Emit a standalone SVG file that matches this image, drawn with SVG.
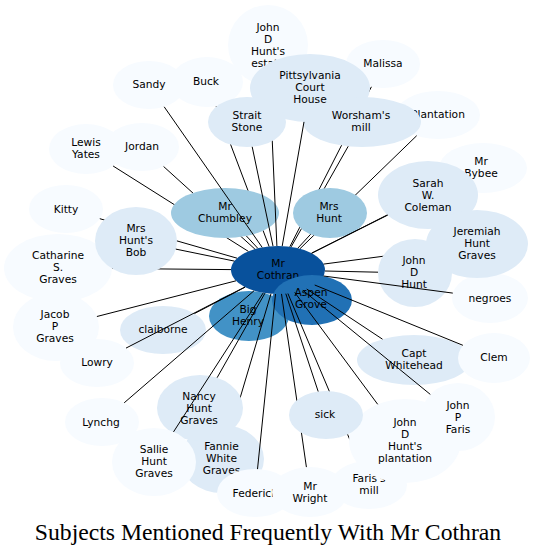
<svg xmlns="http://www.w3.org/2000/svg" width="536" height="555" viewBox="0 0 536 555">
<style>
.n0{fill:#f7fbff}.n1{fill:#deebf7}.n3{fill:#9ecae1}.n5{fill:#4292c6}.n6{fill:#2171b5}.n7{fill:#08519c}
text{font-family:"DejaVu Sans","Liberation Sans",sans-serif;font-size:10.67px;text-anchor:middle;fill:#000}
.title{font-family:"Liberation Serif","Times New Roman",serif;font-size:23.7px}
#edges path{stroke:#000;stroke-width:1;fill:none}
mask rect{fill:#fff}
mask ellipse{fill:#000}
</style>
<defs>
<mask id="m-estate" maskUnits="userSpaceOnUse" x="0" y="0" width="536" height="555"><rect width="536" height="555"/><ellipse cx="310" cy="88" rx="60" ry="34"/><ellipse cx="247" cy="122" rx="39" ry="25"/></mask>
<mask id="m-malissa" maskUnits="userSpaceOnUse" x="0" y="0" width="536" height="555"><rect width="536" height="555"/><ellipse cx="330" cy="213" rx="37" ry="25"/><ellipse cx="310" cy="88" rx="60" ry="34"/><ellipse cx="362" cy="122" rx="59" ry="25"/></mask>
<mask id="m-buck" maskUnits="userSpaceOnUse" x="0" y="0" width="536" height="555"><rect width="536" height="555"/><ellipse cx="225" cy="213" rx="54" ry="25"/><ellipse cx="247" cy="122" rx="39" ry="25"/></mask>
<mask id="m-mrshunt" maskUnits="userSpaceOnUse" x="0" y="0" width="536" height="555"><rect width="536" height="555"/><ellipse cx="330" cy="213" rx="37" ry="25"/></mask>
<mask id="m-sarah" maskUnits="userSpaceOnUse" x="0" y="0" width="536" height="555"><rect width="536" height="555"/><ellipse cx="428" cy="195" rx="50" ry="34"/></mask>
<mask id="m-jdh" maskUnits="userSpaceOnUse" x="0" y="0" width="536" height="555"><rect width="536" height="555"/><ellipse cx="415" cy="273" rx="37" ry="34"/></mask>
<mask id="m-sickq" maskUnits="userSpaceOnUse" x="0" y="0" width="536" height="555"><rect width="536" height="555"/><ellipse cx="326" cy="415" rx="37" ry="24"/><ellipse cx="405" cy="441" rx="56" ry="42"/></mask>
<mask id="m-sick" maskUnits="userSpaceOnUse" x="0" y="0" width="536" height="555"><rect width="536" height="555"/><ellipse cx="326" cy="415" rx="37" ry="24"/></mask>
<mask id="m-nancy" maskUnits="userSpaceOnUse" x="0" y="0" width="536" height="555"><rect width="536" height="555"/><ellipse cx="200" cy="408" rx="43" ry="33"/></mask>
<mask id="m-bob" maskUnits="userSpaceOnUse" x="0" y="0" width="536" height="555"><rect width="536" height="555"/><ellipse cx="136" cy="241" rx="41" ry="34"/></mask>
<mask id="m-chum" maskUnits="userSpaceOnUse" x="0" y="0" width="536" height="555"><rect width="536" height="555"/><ellipse cx="225" cy="213" rx="54" ry="25"/></mask>
</defs>
<rect width="536" height="555" fill="#fff"/>

<g id="node-big-henry"><ellipse class="n5" cx="249" cy="316" rx="40" ry="25"/><text><tspan x="248" y="312.8">Big</tspan><tspan x="248" y="324.8">Henry</tspan></text></g>
<g id="node-mr-cothran"><ellipse class="n7" cx="278" cy="270" rx="47" ry="24"/><text><tspan x="278" y="267.3">Mr</tspan><tspan x="278" y="279.3">Cothran</tspan></text></g>
<g id="node-aspen-grove"><ellipse class="n6" cx="312" cy="300" rx="40" ry="25"/><text><tspan x="311" y="296.3">Aspen</tspan><tspan x="311" y="308.3">Grove</tspan></text></g>
<g id="node-mr-chumbley"><ellipse class="n3" cx="225" cy="213" rx="54" ry="25"/><text><tspan x="225" y="210.3">Mr</tspan><tspan x="225" y="222.3">Chumbley</tspan></text></g>
<g id="node-mrs-hunt"><ellipse class="n3" cx="330" cy="213" rx="37" ry="25"/><text><tspan x="329" y="209.8">Mrs</tspan><tspan x="329" y="221.8">Hunt</tspan></text></g>
<g id="node-estate"><ellipse class="n0" cx="268" cy="45" rx="40" ry="40"/><text><tspan x="268" y="31.3">John</tspan><tspan x="268" y="43.3">D</tspan><tspan x="268" y="55.3">Hunt's</tspan><tspan x="268" y="67.3">estate</tspan></text></g>
<g id="node-malissa"><ellipse class="n0" cx="383" cy="64" rx="37" ry="24"/><text x="383" y="67.3">Malissa</text></g>
<g id="node-sandy"><ellipse class="n0" cx="149" cy="85" rx="36" ry="24"/><text x="149" y="88.3">Sandy</text></g>
<g id="node-buck"><ellipse class="n0" cx="207" cy="82" rx="36" ry="25"/><text x="206" y="84.8">Buck</text></g>
<g id="node-pittsylvania"><ellipse class="n1" cx="310" cy="88" rx="60" ry="34"/><text><tspan x="310" y="79.3">Pittsylvania</tspan><tspan x="310" y="91.3">Court</tspan><tspan x="310" y="103.3">House</tspan></text></g>
<g id="node-strait-stone"><ellipse class="n1" cx="247" cy="122" rx="39" ry="25"/><text><tspan x="247" y="118.8">Strait</tspan><tspan x="247" y="130.8">Stone</tspan></text></g>
<g id="node-plantation"><ellipse class="n0" cx="438" cy="115" rx="42" ry="24"/><text x="438" y="118.3">Plantation</text></g>
<g id="node-worshams-mill"><ellipse class="n1" cx="362" cy="122" rx="59" ry="25"/><text><tspan x="361" y="118.8">Worsham's</tspan><tspan x="361" y="130.8">mill</tspan></text></g>
<g id="node-mr-bybee"><ellipse class="n0" cx="483" cy="168" rx="44" ry="25"/><text><tspan x="481" y="164.8">Mr</tspan><tspan x="481" y="176.8">Bybee</tspan></text></g>
<g id="node-sarah"><ellipse class="n1" cx="428" cy="195" rx="50" ry="34"/><text><tspan x="428" y="186.8">Sarah</tspan><tspan x="428" y="198.8">W.</tspan><tspan x="428" y="210.8">Coleman</tspan></text></g>
<g id="node-negroes"><ellipse class="n0" cx="490" cy="298" rx="38" ry="25"/><text x="490" y="302">negroes</text></g>
<g id="node-jeremiah"><ellipse class="n1" cx="477" cy="244" rx="51" ry="34"/><text><tspan x="477" y="235.3">Jeremiah</tspan><tspan x="477" y="247.3">Hunt</tspan><tspan x="477" y="259.3">Graves</tspan></text></g>
<g id="node-john-d-hunt"><ellipse class="n1" cx="415" cy="273" rx="37" ry="34"/><text><tspan x="414" y="264.3">John</tspan><tspan x="414" y="276.3">D</tspan><tspan x="414" y="288.3">Hunt</tspan></text></g>
<g id="node-capt-whitehead"><ellipse class="n1" cx="414" cy="360" rx="57" ry="25"/><text><tspan x="414" y="356.8">Capt</tspan><tspan x="414" y="368.8">Whitehead</tspan></text></g>
<g id="node-clem"><ellipse class="n0" cx="494" cy="358" rx="36" ry="25"/><text x="494" y="360.8">Clem</text></g>
<g id="node-faris-mill"><ellipse class="n0" cx="369" cy="485" rx="38" ry="24"/><text><tspan x="369" y="481.8">Faris's</tspan><tspan x="369" y="493.8">mill</tspan></text></g>
<g id="node-jdh-plantation"><ellipse class="n0" cx="405" cy="441" rx="56" ry="42"/><text><tspan x="405" y="426.1">John</tspan><tspan x="405" y="438.1">D</tspan><tspan x="405" y="450.1">Hunt's</tspan><tspan x="405" y="462.1">plantation</tspan></text></g>
<g id="node-john-p-faris"><ellipse class="n0" cx="458" cy="417" rx="37" ry="34"/><text><tspan x="458" y="408.8">John</tspan><tspan x="458" y="420.8">P</tspan><tspan x="458" y="432.8">Faris</tspan></text></g>
<g id="node-sick"><ellipse class="n1" cx="326" cy="415" rx="37" ry="24"/><text x="325" y="417.8">sick</text></g>
<g id="node-fannie"><ellipse class="n1" cx="222" cy="459" rx="42" ry="34"/><text><tspan x="221.5" y="449.8">Fannie</tspan><tspan x="221.5" y="461.8">White</tspan><tspan x="221.5" y="473.8">Graves</tspan></text></g>
<g id="node-federick"><ellipse class="n0" cx="255" cy="493" rx="38" ry="24"/><text x="255" y="496.8">Federick</text></g>
<g id="node-mr-wright"><ellipse class="n0" cx="310" cy="492" rx="38" ry="25"/><text><tspan x="310" y="489.5">Mr</tspan><tspan x="310" y="501.5">Wright</tspan></text></g>
<g id="node-nancy"><ellipse class="n1" cx="200" cy="408" rx="43" ry="33"/><text><tspan x="199" y="399.8">Nancy</tspan><tspan x="199" y="411.8">Hunt</tspan><tspan x="199" y="423.8">Graves</tspan></text></g>
<g id="node-sallie"><ellipse class="n0" cx="154" cy="462" rx="42" ry="34"/><text><tspan x="154" y="453.1">Sallie</tspan><tspan x="154" y="465.1">Hunt</tspan><tspan x="154" y="477.1">Graves</tspan></text></g>
<g id="node-lynchg"><ellipse class="n0" cx="102" cy="422" rx="37" ry="24"/><text x="101" y="425.8">Lynchg</text></g>
<g id="node-lowry"><ellipse class="n0" cx="97" cy="363" rx="37" ry="24"/><text x="97" y="365.8">Lowry</text></g>
<g id="node-claiborne"><ellipse class="n1" cx="163" cy="330" rx="43" ry="24"/><text x="163" y="332.8">claiborne</text></g>
<g id="node-jacob"><ellipse class="n0" cx="56" cy="327" rx="43" ry="34"/><text><tspan x="55" y="317.8">Jacob</tspan><tspan x="55" y="329.8">P</tspan><tspan x="55" y="341.8">Graves</tspan></text></g>
<g id="node-catharine"><ellipse class="n0" cx="58" cy="268" rx="54" ry="34"/><text><tspan x="58" y="259.3">Catharine</tspan><tspan x="58" y="271.3">S.</tspan><tspan x="58" y="283.3">Graves</tspan></text></g>
<g id="node-kitty"><ellipse class="n0" cx="66" cy="209" rx="37" ry="24"/><text x="66" y="212.8">Kitty</text></g>
<g id="node-mrs-hunts-bob"><ellipse class="n1" cx="136" cy="241" rx="41" ry="34"/><text><tspan x="136" y="231.8">Mrs</tspan><tspan x="136" y="243.8">Hunt's</tspan><tspan x="136" y="255.8">Bob</tspan></text></g>
<g id="node-lewis-yates"><ellipse class="n0" cx="86" cy="149" rx="37" ry="25"/><text><tspan x="86" y="146.3">Lewis</tspan><tspan x="86" y="158.3">Yates</tspan></text></g>
<g id="node-jordan"><ellipse class="n0" cx="142" cy="147" rx="37" ry="24"/><text x="142" y="149.8">Jordan</text></g>

<g id="edges">
<path d="M276.9,246.0L269.8,85.1" mask="url(#m-estate)"/>
<path d="M289.8,246.8L371.4,86.8" mask="url(#m-malissa)"/>
<path d="M262.2,247.4L164.2,106.8"/>
<path d="M269.1,246.5L216.2,106.3" mask="url(#m-buck)"/>
<path d="M282.2,246.1L304.0,121.9"/>
<path d="M273.0,246.1L252.2,146.8"/>
<path d="M291.1,246.9L348.2,146.3" mask="url(#m-mrshunt)"/>
<path d="M299.9,248.8L416.7,135.7" mask="url(#m-mrshunt)"/>
<path d="M311.7,253.2L449.2,183.6" mask="url(#m-sarah)"/>
<path d="M311.6,253.2L387.7,215.1"/>
<path d="M323.5,264.1L427.0,250.5" mask="url(#m-jdh)"/>
<path d="M324.9,271.0L378.0,272.2"/>
<path d="M323.5,276.0L452.8,293.1"/>
<path d="M314.7,285.0L462.9,345.3"/>
<path d="M306.7,289.0L382.5,339.2"/>
<path d="M302.9,290.3L430.3,394.4"/>
<path d="M294.7,292.4L377.7,404.3"/>
<path d="M285.8,293.7L318.2,391.5"/>
<path d="M287.9,293.5L359.2,461.8" mask="url(#m-sickq)"/>
<path d="M281.5,293.9L306.4,467.1" mask="url(#m-sick)"/>
<path d="M275.5,294.0L257.5,469.1"/>
<path d="M271.0,293.7L231.8,425.9" mask="url(#m-nancy)"/>
<path d="M265.0,293.1L217.1,377.7"/>
<path d="M263.3,292.8L173.5,431.9"/>
<path d="M254.1,290.7L124.2,402.8"/>
<path d="M244.9,287.0L126.0,348.1"/>
<path d="M245.1,287.2L194.4,313.6"/>
<path d="M236.0,280.8L96.9,316.5"/>
<path d="M231.0,269.6L112.0,268.5" mask="url(#m-bob)"/>
<path d="M237.1,258.2L99.8,218.7" mask="url(#m-bob)"/>
<path d="M234.4,261.1L175.8,249.1"/>
<path d="M248.4,251.4L113.1,166.0" mask="url(#m-chum)"/>
<path d="M254.9,249.1L163.6,166.5" mask="url(#m-chum)"/>
<path d="M257.8,248.3L246.4,236.0"/>
<path d="M297.8,248.2L310.6,234.3"/>
</g>

<text class="title" x="268" y="540">Subjects Mentioned Frequently With Mr Cothran</text>
</svg>
